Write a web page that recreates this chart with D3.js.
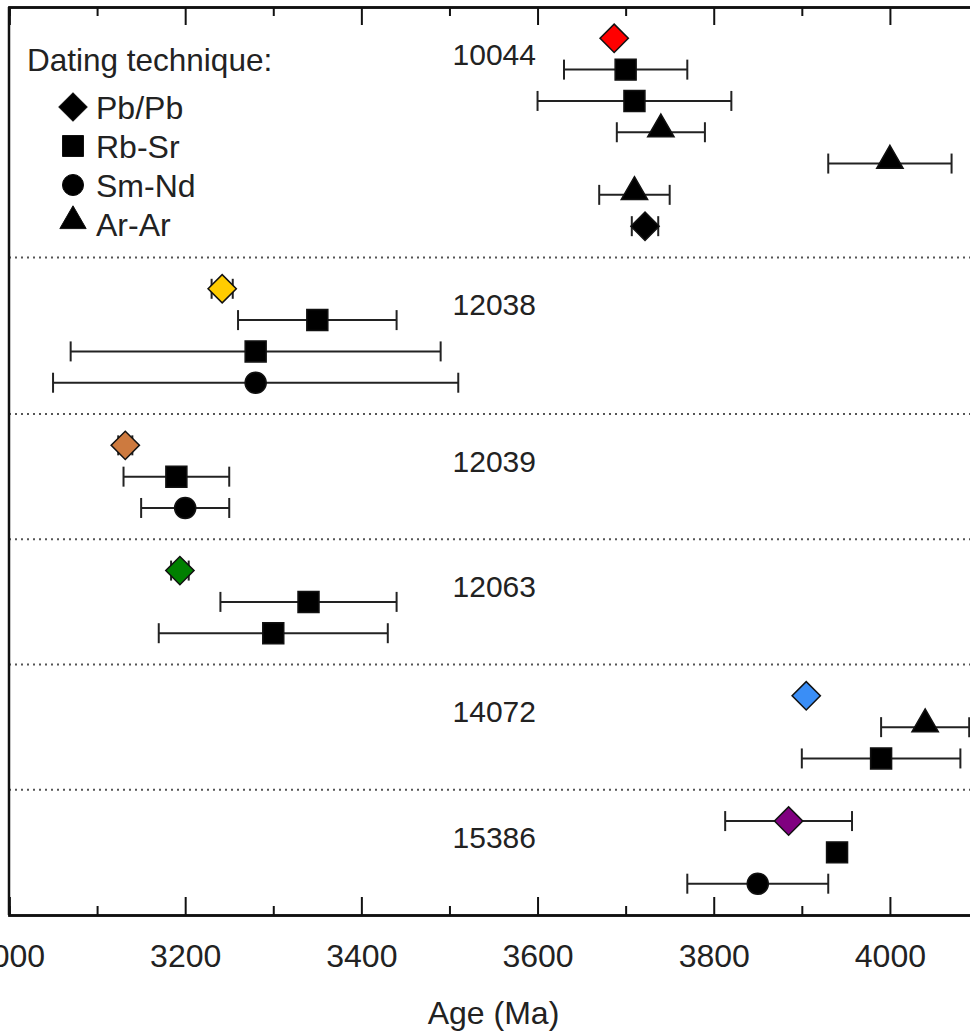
<!DOCTYPE html>
<html>
<head>
<meta charset="utf-8">
<script src="https://cdn.jsdelivr.net/npm/d3@7"></script>
<style>
  html, body { margin: 0; padding: 0; background: #fff; }
  svg { display: block; }
  text { font-family: "Liberation Sans", Arial, sans-serif; fill: #222; }
</style>
</head>
<body>
<svg id="chart" width="970" height="1036"></svg>
<script>
// Lunar sample ages by dating technique
const samples = ["10044", "12038", "12039", "12063", "14072", "15386"];
const techniques = ["Pb/Pb", "Rb-Sr", "Sm-Nd", "Ar-Ar"];

// one entry per measurement, listed top to bottom within each sample
const measSample = [
  "10044", "10044", "10044", "10044", "10044", "10044", "10044",
  "12038", "12038", "12038", "12038",
  "12039", "12039", "12039",
  "12063", "12063", "12063",
  "14072", "14072", "14072",
  "15386", "15386", "15386"
];
const measTechnique = [
  "Pb/Pb", "Rb-Sr", "Rb-Sr", "Ar-Ar", "Ar-Ar", "Ar-Ar", "Pb/Pb",
  "Pb/Pb", "Rb-Sr", "Rb-Sr", "Sm-Nd",
  "Pb/Pb", "Rb-Sr", "Sm-Nd",
  "Pb/Pb", "Rb-Sr", "Rb-Sr",
  "Pb/Pb", "Ar-Ar", "Rb-Sr",
  "Pb/Pb", "Rb-Sr", "Sm-Nd"
];
const measAge = [
  3687, 3700, 3710, 3740, 4000, 3710, 3722,
  3242, 3350, 3280, 3280,
  3132, 3190, 3200,
  3194, 3340, 3300,
  3905, 4040, 3990,
  3885, 3940, 3850
];
const measError = [
  0, 70, 110, 50, 70, 40, 15,
  12, 90, 210, 230,
  8, 60, 50,
  10, 100, 130,
  0, 50, 90,
  72, 0, 80
];

const xTicksMajor = [3000, 3200, 3400, 3600, 3800, 4000];
const xTicksMinor = [3100, 3300, 3500, 3700, 3900, 4100];

// fill colour of the Pb/Pb diamonds, in measurement order
const pbFill = ["#ff0000", "#000000", "#ffcc00", "#cd7a3f", "#008000", "#3a8ef6", "#800080"];

const svg = d3.select("#chart");
const W = 970;
const plotLeft = 9, plotTop = 7, plotBottom = 915, plotRight = 978;

// row slots: every measurement gets one slot, each sample block ends with a separator slot
const rows = [];
const separators = [];
const labelSlots = [];
let slot = 0;
samples.forEach((s, si) => {
  let first = true;
  measSample.forEach((ms, i) => {
    if (ms !== s) return;
    slot += 1;
    if (first) { labelSlots.push({ sample: s, slot: slot + 0.5 }); first = false; }
    rows.push({ i, slot });
  });
  slot += 1;
  if (si < samples.length - 1) separators.push(slot);
});
const totalSlots = slot;

const x = d3.scaleLinear().domain([3000, 4100]).range([plotLeft, plotRight]);
const y = d3.scaleLinear().domain([0, totalSlots]).range([plotTop, plotBottom]);

// dotted separators between samples
svg.append("g").selectAll("line").data(separators).join("line")
  .attr("x1", plotLeft).attr("x2", W)
  .attr("y1", d => y(d)).attr("y2", d => y(d))
  .attr("stroke", "#555").attr("stroke-width", 2)
  .attr("stroke-dasharray", "2,4");

// frame: left edge
svg.append("line")
  .attr("x1", plotLeft).attr("x2", plotLeft).attr("y1", plotTop).attr("y2", plotBottom)
  .attr("stroke", "#111").attr("stroke-width", 2.5);

// bottom axis, major ticks with labels
const axB = svg.append("g").attr("transform", `translate(0,${plotBottom})`)
  .call(d3.axisBottom(x).tickValues(xTicksMajor).tickSize(-18).tickPadding(29)
    .tickFormat(d3.format("d")));
// bottom axis, minor ticks
const axBm = svg.append("g").attr("transform", `translate(0,${plotBottom})`)
  .call(d3.axisBottom(x).tickValues(xTicksMinor).tickSize(-9).tickFormat(""));
// top axis, mirrored ticks
const axT = svg.append("g").attr("transform", `translate(0,${plotTop})`)
  .call(d3.axisTop(x).tickValues(xTicksMajor).tickSize(-18).tickFormat(""));
const axTm = svg.append("g").attr("transform", `translate(0,${plotTop})`)
  .call(d3.axisTop(x).tickValues(xTicksMinor).tickSize(-9).tickFormat(""));

[axB, axBm, axT, axTm].forEach(g => {
  g.select(".domain").attr("stroke", "#111").attr("stroke-width", 2.5);
  g.selectAll(".tick line").attr("stroke", "#111").attr("stroke-width", 2);
});
axB.selectAll(".tick text")
  .style("font-family", "'Liberation Sans', Arial, sans-serif")
  .style("font-size", "32px").attr("fill", "#222");

svg.append("text")
  .attr("x", (plotLeft + plotRight) / 2).attr("y", 1024)
  .attr("text-anchor", "middle")
  .style("font-size", "32px")
  .text("Age (Ma)");

// sample labels
svg.append("g").selectAll("text").data(labelSlots).join("text")
  .attr("x", 536).attr("y", d => y(d.slot))
  .attr("dy", "0.36em")
  .attr("text-anchor", "end")
  .style("font-size", "30px")
  .text(d => d.sample);

// marker shapes
const symbolFor = {
  "Pb/Pb": d3.symbol().type(d3.symbolSquare).size(400),
  "Rb-Sr": d3.symbol().type(d3.symbolSquare).size(440),
  "Sm-Nd": d3.symbol().type(d3.symbolCircle).size(350),
  "Ar-Ar": d3.symbol().type(d3.symbolTriangle).size(300)
};
const rotateFor = { "Pb/Pb": 45, "Rb-Sr": 0, "Sm-Nd": 0, "Ar-Ar": 0 };
const yShiftFor = { "Pb/Pb": 0, "Rb-Sr": 0, "Sm-Nd": 0, "Ar-Ar": -3 };

// error bars
const eb = svg.append("g").selectAll("g").data(rows.filter(r => measError[r.i] > 0)).join("g");
eb.append("line")
  .attr("x1", r => x(measAge[r.i] - measError[r.i]))
  .attr("x2", r => x(measAge[r.i] + measError[r.i]))
  .attr("y1", r => y(r.slot)).attr("y2", r => y(r.slot))
  .attr("stroke", "#222").attr("stroke-width", 2);
[-1, 1].forEach(sgn => {
  eb.append("line")
    .attr("x1", r => x(measAge[r.i] + sgn * measError[r.i]))
    .attr("x2", r => x(measAge[r.i] + sgn * measError[r.i]))
    .attr("y1", r => y(r.slot) - 10).attr("y2", r => y(r.slot) + 10)
    .attr("stroke", "#222").attr("stroke-width", 2);
});

// markers
let pbIndex = 0;
const pbColorOf = {};
rows.forEach(r => {
  if (measTechnique[r.i] === "Pb/Pb") pbColorOf[r.i] = pbFill[pbIndex++];
});
svg.append("g").selectAll("path").data(rows).join("path")
  .attr("d", r => symbolFor[measTechnique[r.i]]())
  .attr("transform", r => `translate(${x(measAge[r.i])},${y(r.slot) + yShiftFor[measTechnique[r.i]]}) rotate(${rotateFor[measTechnique[r.i]]})`)
  .attr("fill", r => measTechnique[r.i] === "Pb/Pb" ? pbColorOf[r.i] : "#000")
  .attr("stroke", "#111").attr("stroke-width", 1.5);

// legend
const legend = svg.append("g");
legend.append("text").attr("x", 27).attr("y", 71)
  .style("font-size", "31.5px").text("Dating technique:");
const legY = d3.scaleLinear().domain([0, 3]).range([107, 224]);
techniques.forEach((t, k) => {
  legend.append("path")
    .attr("d", symbolFor[t]())
    .attr("transform", `translate(73,${legY(k) + yShiftFor[t]}) rotate(${rotateFor[t]})`)
    .attr("fill", "#000").attr("stroke", "#111").attr("stroke-width", 1);
  legend.append("text").attr("x", 96).attr("y", legY(k))
    .attr("dy", "0.36em")
    .style("font-size", "32px").text(t);
});
</script>
</body>
</html>
